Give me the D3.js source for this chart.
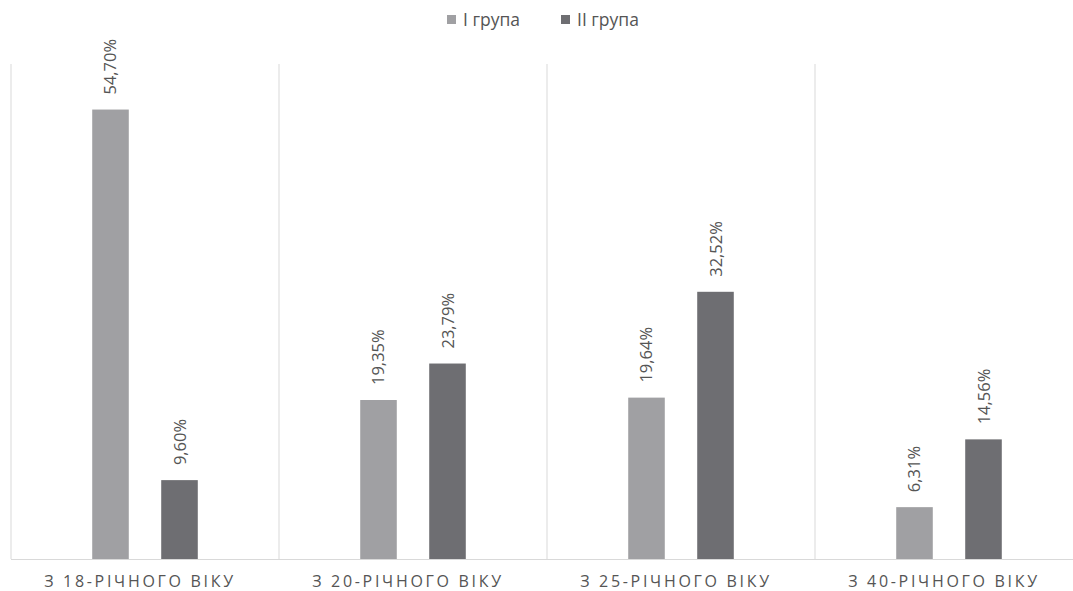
<!DOCTYPE html>
<html><head><meta charset="utf-8">
<script src="https://cdn.jsdelivr.net/npm/d3@7"></script>
<style>body{margin:0;background:#fff}svg{display:block}</style>
</head><body><svg id="c" width="1073" height="591"></svg>
<script>
const categories = ["З 18-РІЧНОГО ВІКУ", "З 20-РІЧНОГО ВІКУ", "З 25-РІЧНОГО ВІКУ", "З 40-РІЧНОГО ВІКУ"];
const seriesNames = ["I група", "II група"];
const group1 = [54.70, 19.35, 19.64, 6.31];
const group2 = [9.60, 23.79, 32.52, 14.56];
const labels1 = ["54,70%", "19,35%", "19,64%", "6,31%"];
const labels2 = ["9,60%", "23,79%", "32,52%", "14,56%"];
const colors = ["#a0a0a3", "#6e6e72"];

const svg = d3.select("#c");
const font = "'Open Sans', 'Liberation Sans', sans-serif";
const x0 = d3.scaleBand().domain(categories).range([11, 1083]).paddingInner(0).paddingOuter(0);
const x1 = d3.scaleBand().domain(seriesNames).range([0, x0.bandwidth()]).paddingInner(0.47).paddingOuter(1.177);
const y = d3.scaleLinear().domain([0, 60]).range([559, 66]);

// vertical separators
const seps = categories.map(c => x0(c)).concat([x0.range()[1]]);
svg.append("g").selectAll("line").data(seps).join("line")
  .attr("x1", d => d).attr("x2", d => d).attr("y1", 64).attr("y2", y(0))
  .attr("stroke", "#d9d9d9").attr("stroke-width", 1);
// baseline
svg.append("line").attr("x1", x0.range()[0]).attr("x2", x0.range()[1]).attr("y1", y(0) + 0.5).attr("y2", y(0) + 0.5)
  .attr("stroke", "#d9d9d9");

const data = [];
categories.forEach((c, i) => {
  data.push({c, s: seriesNames[0], v: group1[i], l: labels1[i], k: 0});
  data.push({c, s: seriesNames[1], v: group2[i], l: labels2[i], k: 1});
});

svg.append("g").selectAll("rect").data(data).join("rect")
  .attr("x", d => x0(d.c) + x1(d.s)).attr("width", x1.bandwidth())
  .attr("y", d => y(d.v)).attr("height", d => y(0) - y(d.v))
  .attr("fill", d => colors[d.k]);

svg.append("g").selectAll("text").data(data).join("text")
  .attr("transform", d => `translate(${x0(d.c) + x1(d.s) + x1.bandwidth() / 2 + 6},${y(d.v) - 15}) rotate(-90)`)
  .attr("font-family", font).attr("font-size", 16.5).attr("fill", "#555555")
  .attr("text-anchor", "start").text(d => d.l);

// category labels
svg.append("g").selectAll("text").data(categories).join("text")
  .attr("x", d => x0(d) + x0.bandwidth() / 2 - 5).attr("y", 587)
  .attr("text-anchor", "middle").attr("font-family", font).attr("font-size", 16)
  .attr("letter-spacing", 2.7).attr("fill", "#555555")
  .attr("xml:space", "preserve").style("white-space", "pre").text(d => d);

// legend
const legX = [447, 561];
const lg = svg.append("g").selectAll("g").data(seriesNames).join("g")
  .attr("transform", (d, i) => `translate(${legX[i]},0)`);
lg.append("rect").attr("x", 0).attr("y", 15).attr("width", 9).attr("height", 9).attr("fill", (d, i) => colors[i]);
lg.append("text").attr("x", 16).attr("y", 26).attr("font-family", font).attr("font-size", 17.5)
  .attr("fill", "#555555").text(d => d);
</script></body></html>
